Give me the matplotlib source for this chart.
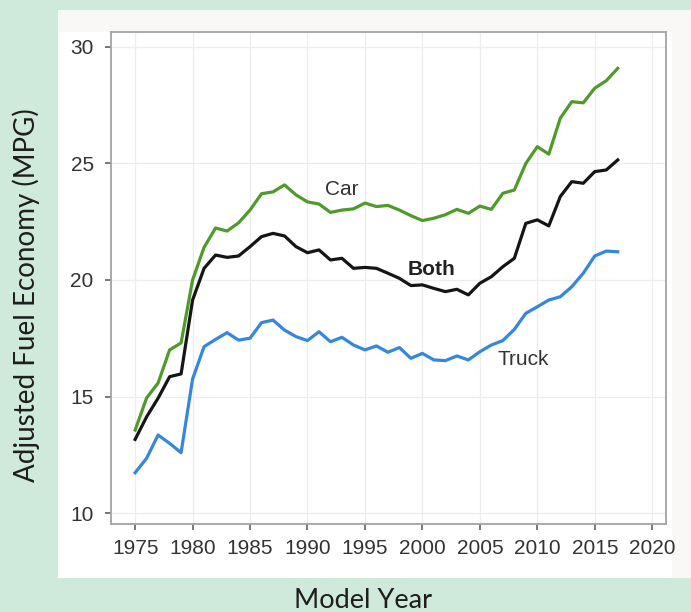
import matplotlib.pyplot as plt
from matplotlib.patches import Rectangle
import numpy as np

plt.rcParams['font.family'] = 'Liberation Sans'

#Data
years = list(range(1975, 2018))

car = [13.56, 14.94, 15.58, 17.0, 17.3, 20.0, 21.4, 22.23, 22.1, 22.45,
       23.0, 23.7, 23.78, 24.08, 23.65, 23.35, 23.26, 22.9, 23.0, 23.05,
       23.3, 23.15, 23.2, 23.0, 22.76, 22.55, 22.65, 22.8, 23.03, 22.86,
       23.17, 23.03, 23.72, 23.86, 25.0, 25.72, 25.4, 26.94, 27.65, 27.6,
       28.23, 28.55, 29.08]

both = [13.16, 14.13, 14.93, 15.85, 15.97, 19.14, 20.5, 21.07, 20.97, 21.03,
        21.43, 21.86, 22.0, 21.89, 21.43, 21.17, 21.29, 20.86, 20.93, 20.5,
        20.54, 20.5, 20.29, 20.07, 19.76, 19.79, 19.64, 19.5, 19.6, 19.36,
        19.86, 20.14, 20.57, 20.93, 22.43, 22.58, 22.32, 23.58, 24.22, 24.15,
        24.65, 24.72, 25.15]

truck = [11.73, 12.35, 13.35, 12.99, 12.59, 15.75, 17.14, 17.45, 17.74, 17.42,
         17.5, 18.17, 18.28, 17.85, 17.57, 17.4, 17.78, 17.35, 17.54, 17.21,
         17.0, 17.17, 16.9, 17.1, 16.64, 16.85, 16.57, 16.54, 16.74, 16.57,
         16.92, 17.21, 17.4, 17.88, 18.57, 18.85, 19.14, 19.28, 19.71, 20.29,
         21.03, 21.24, 21.21]

xticks = list(range(1975, 2021, 5))
yticks = [10, 15, 20, 25, 30]

#Figure with mint background and light panel
W, H = 691, 612
fig = plt.figure(figsize=(W / 100, H / 100), dpi=100, facecolor='#cfeadb')

def px_rect(x0, y0, x1, y1, color):
    fig.patches.append(Rectangle((x0 / W, 1 - y1 / H), (x1 - x0) / W, (y1 - y0) / H,
                                 transform=fig.transFigure, facecolor=color,
                                 edgecolor='none', zorder=-10))

px_rect(58, 10, 691, 578, '#f9f8f6')
px_rect(58, 32, 672, 578, '#ffffff')

ax = fig.add_axes([111 / W, 1 - 524 / H, (666 - 111) / W, (524 - 32) / H])
ax.set_zorder(5)
ax.set_facecolor('white')

ax.plot(years, car, color='#4f9a2a', lw=2.3, solid_joinstyle='round')
ax.plot(years, both, color='#151515', lw=2.3, solid_joinstyle='round')
ax.plot(years, truck, color='#3487dc', lw=2.3, solid_joinstyle='round')

ax.text(1993.0, 23.9, 'Car', fontsize=15, color='#333333', ha='center', va='center')
ax.text(2000.8, 20.45, 'Both', fontsize=15, color='#222222', ha='center', va='center',
        fontweight='bold')
ax.text(2008.8, 16.57, 'Truck', fontsize=15, color='#333333', ha='center', va='center')

ax.set_xlim(1972.9, 2021.2)
ax.set_ylim(9.53, 30.64)
ax.set_xticks(xticks)
ax.set_yticks(yticks)
ax.grid(True, color='#ededed', lw=0.9)
ax.set_axisbelow(True)
for s in ax.spines.values():
    s.set_color('#a3a3a3')
    s.set_linewidth(1.3)
ax.tick_params(direction='out', length=4.5, width=1.1, color='#555555',
               labelsize=15, labelcolor='#333333')
ax.tick_params(axis='x', pad=6)
ax.tick_params(axis='y', pad=8)

fig.text(26 / W, 1 - 295 / H, 'Adjusted Fuel Economy (MPG)', rotation=90,
         ha='center', va='center', fontsize=20, color='#1e1e1e', family='Lato')
fig.text(363 / W, 1 - 600 / H, 'Model Year', ha='center', va='center',
         fontsize=19.5, color='#1e1e1e', family='Lato')

fig.savefig('out.png', dpi=100, facecolor=fig.get_facecolor())
